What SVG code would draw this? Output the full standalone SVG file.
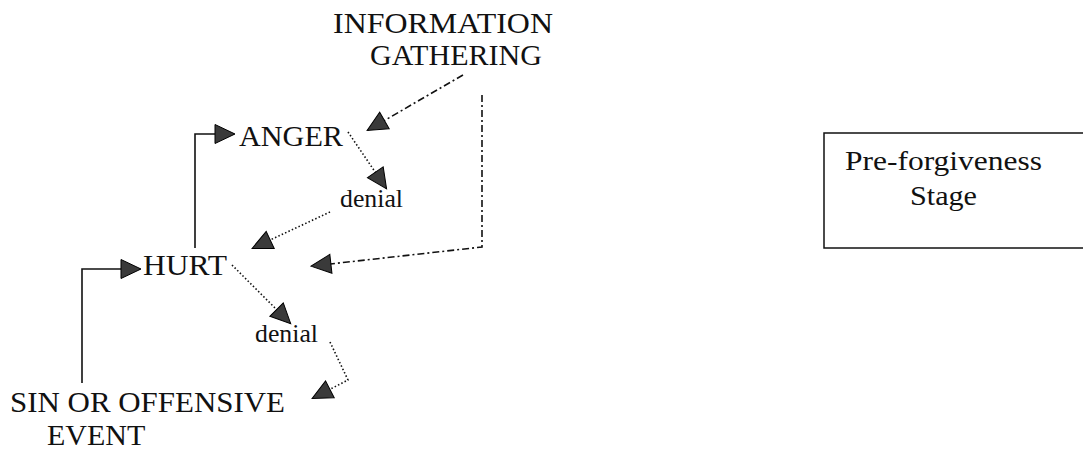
<svg xmlns="http://www.w3.org/2000/svg" width="1083" height="453" viewBox="0 0 1083 453">
<style>
  text { font-family: "Liberation Serif", "Times New Roman", serif; fill: #111; }
  .big { font-size: 30px; }
  .small { font-size: 25px; }
  .box { font-size: 27px; }
  .solid { fill: none; stroke: #111; stroke-width: 1.6; }
  .dot { fill: none; stroke: #111; stroke-width: 1.6; stroke-dasharray: 1.5 2.2; }
  .dashdot { fill: none; stroke: #111; stroke-width: 1.6; stroke-dasharray: 7 3 2 3; }
</style>
<defs>
  <marker id="arr" markerUnits="userSpaceOnUse" markerWidth="22" markerHeight="20" refX="19" refY="9.5" orient="auto" overflow="visible">
    <path d="M0,0 L20,9.5 L0,19 Z" fill="#3a3a3a" stroke="#000" stroke-width="1"/>
  </marker>
</defs>
<rect width="1083" height="453" fill="#fff"/>

<g id="connectors">
  <path class="solid" d="M82,383 V269 H140" marker-end="url(#arr)"/>
  <path class="solid" d="M195,248 V134 H234" marker-end="url(#arr)"/>
  <path class="dot" d="M348,132 L386,188" marker-end="url(#arr)"/>
  <path class="dot" d="M330,212 L253,248" marker-end="url(#arr)"/>
  <path class="dashdot" d="M463,75 L368,130" marker-end="url(#arr)"/>
  <path class="dashdot" d="M482,95 V247 L312,266" marker-end="url(#arr)"/>
  <path class="dot" d="M232,265 L290,323" marker-end="url(#arr)"/>
  <path class="dot" d="M330,342 L348,380 L313,398" marker-end="url(#arr)"/>
</g>

<g id="info">
  <text class="big" x="333" y="33" textLength="220" lengthAdjust="spacingAndGlyphs">INFORMATION</text>
  <text class="big" x="370" y="65" textLength="172" lengthAdjust="spacingAndGlyphs">GATHERING</text>
</g>
<g id="anger">
  <text class="big" x="239" y="146" textLength="104" lengthAdjust="spacingAndGlyphs">ANGER</text>
</g>
<g id="denial1">
  <text class="small" x="340" y="207" textLength="63" lengthAdjust="spacingAndGlyphs">denial</text>
</g>
<g id="hurt">
  <text class="big" x="143" y="275" textLength="84" lengthAdjust="spacingAndGlyphs">HURT</text>
</g>
<g id="denial2">
  <text class="small" x="255" y="342" textLength="63" lengthAdjust="spacingAndGlyphs">denial</text>
</g>
<g id="sin">
  <text class="big" x="10" y="412" textLength="275" lengthAdjust="spacingAndGlyphs">SIN OR OFFENSIVE</text>
  <text class="big" x="47" y="445">EVENT</text>
</g>
<g id="stage">
  <rect x="824" y="133" width="270" height="115" fill="none" stroke="#111" stroke-width="1.5"/>
  <text class="box" x="845" y="170" textLength="197" lengthAdjust="spacingAndGlyphs">Pre-forgiveness</text>
  <text class="box" x="910" y="205" textLength="67" lengthAdjust="spacingAndGlyphs">Stage</text>
</g>
</svg>
